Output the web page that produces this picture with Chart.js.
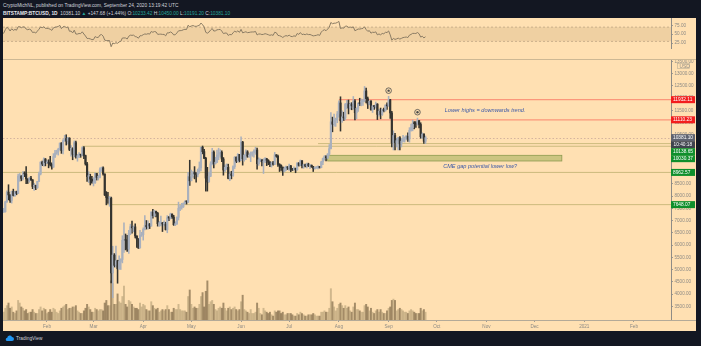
<!DOCTYPE html>
<html>
<head>
<meta charset="utf-8">
<script src="https://cdn.jsdelivr.net/npm/chart.js@4"></script>
<style>
  body { margin: 0; width: 701px; height: 346px; background: #131722; overflow: hidden;
         font-family: "Liberation Sans", Arial, sans-serif; position: relative; }
  .head { position: absolute; left: 3px; font-size: 4.8px; color: #d1d4dc; white-space: nowrap; }
  .head b { font-weight: bold; color: #e8e9ee; }
  .head .v { color: #26a69a; }
  #panel { position: absolute; left: 3px; top: 18px; width: 693px; height: 313px; background: #ffe0b2; }
  #rsi { position: absolute; left: 0; top: 0; }
  #main { position: absolute; left: 0; top: 41px; }
  #sep { position: absolute; left: 0; top: 41px; width: 693px; height: 1px; background: #cdb894; }
  #logo { position: absolute; left: 5px; top: 335px; font-size: 4.8px; color: #d1d4dc; display: flex; align-items: center; gap: 2px; }
</style>
</head>
<body>
<div class="head" style="top:3px">CryptoMichNL, published on TradingView.com, September 24, 2020 13:19:42 UTC</div>
<div class="head" style="top:10.5px"><b>BITSTAMP:BTCUSD, 1D</b> &nbsp;10381.10 <span class="v">▲</span> +147.68 (+1.44%) O:<span class="v">10233.42</span> H:<span class="v">10450.00</span> L:<span class="v">10191.20</span> C:<span class="v">10381.10</span></div>
<div id="panel">
  <canvas id="rsi" width="693" height="41"></canvas>
  <canvas id="main" width="693" height="272"></canvas>
  <div id="sep"></div>
</div>
<div id="logo"><svg width="9" height="6" viewBox="0 0 18 12"><path d="M4 12h10a4 4 0 0 0 0-8 5 5 0 0 0-9.5 1.5A3.3 3.3 0 0 0 4 12z" fill="#2196f3"/></svg><span>TradingView</span></div>
<script>
// day numbers: 0 = 1 Jan 2020
const closeStartDay = -31;   // 1 Dec 2019 (only used for opens / RSI warm-up)
const candleStartDay = 3;    // 4 Jan 2020

// daily closes, Dec 2019 .. 24 Sep 2020
const closes = [
  7420,7320,7300,7200,7400,7540,7510,7530,7340,7220,7210,7190,7260,7070,7110,6880,6620,7290,7150,7190,7150,7510,7320,7250,7200,7200,7250,7310,7390,7230,7190,
  7200,6965,7345,7355,7358,7760,8160,8045,7818,8190,8020,8180,8108,8815,8820,8720,8905,8900,8700,8630,8730,8660,8390,8440,8340,8600,8900,9380,9300,9510,9350,
  9380,9340,9290,9180,9610,9750,9800,9900,10160,9860,10260,10350,10240,10360,9900,9930,9700,10180,9600,9600,9690,9670,9970,9650,9310,8790,8790,8690,8540,
  8540,8920,8760,8760,9070,9150,8900,8040,7940,7910,7920,4860,5590,5170,5360,5030,5330,5410,6190,6210,6190,5830,6480,6750,6700,6740,6370,6250,5880,6400,6420,
  6640,6800,6740,6860,6770,7340,7200,7370,7300,6870,6890,6910,6860,6860,6630,7110,7100,7260,7140,6830,6860,7130,7500,7540,7560,7700,7780,7760,8790,8620,
  8830,8970,8900,8880,9030,9150,9990,9810,9540,8730,8570,8810,9310,9790,9320,9380,9670,9730,9780,9510,9060,9170,9180,8720,8900,8840,9200,9580,9420,9700,9450,
  10200,9520,9670,9800,9630,9670,9750,9780,9780,9880,9320,9480,9480,9390,9430,9520,9460,9380,9300,9360,9290,9680,9620,9290,9250,9160,9000,9120,9190,9140,
  9230,9090,9060,9130,9070,9340,9250,9440,9240,9280,9230,9300,9240,9250,9190,9130,9150,9170,9210,9160,9390,9530,9610,9550,9710,9930,11030,10930,11100,11110,11350,
  11800,11070,11230,11190,11740,11770,11600,11750,11680,11880,11400,11580,11780,11770,11860,11910,12290,11970,11750,11870,11520,11680,11650,11750,11330,11460,11330,11530,11480,11710,11680,
  11930,11390,10170,10470,10170,10260,10380,10130,10240,10360,10400,10440,10330,10680,10790,10960,10950,10940,11080,10920,10420,10530,10233.42,10381.1
];

// daily highs / lows, 4 Jan .. 24 Sep 2020
const highs = [
  7400,7500,7790,8210,8460,8050,8200,8280,8190,8200,8890,8920,8830,9000,8990,9200,8700,8770,8800,8670,8520,8440,8600,8980,9400,9430,9560,9530,
  9450,9480,9620,9350,9730,9860,9870,9950,10160,10180,10300,10480,10500,10390,10380,10060,9970,10250,10240,9700,9770,9700,10010,10020,9670,9370,8990,8890,8800,
  8750,8950,8920,8850,9150,9180,9190,8900,8180,8150,7980,7960,5950,5650,5960,5380,5560,5440,6380,6910,6450,6400,6600,6850,6980,6780,6860,6360,6260,6600,6520,
  6700,7200,7000,6990,6880,7360,7460,7420,7380,7330,6960,7180,6920,6990,6930,7200,7160,7300,7270,7210,6950,7150,7750,7620,7700,7720,7800,7800,8970,9460,
  9060,9000,9200,8960,9100,9390,10000,10040,9900,9580,9170,8980,9400,9950,9840,9580,9870,9950,9890,9840,9570,9270,9310,9300,8980,9010,9230,9610,9600,9730,9700,
  10420,10230,9690,9880,9850,9730,9800,9800,9880,9990,9960,9560,9500,9480,9520,9570,9540,9480,9400,9390,9420,9780,9690,9670,9320,9270,9190,9180,9220,9200,
  9300,9250,9130,9190,9140,9360,9360,9470,9450,9300,9300,9340,9340,9280,9270,9210,9180,9200,9230,9210,9420,9550,9650,9650,9730,10100,11400,11220,11340,11180,11450,
  11880,12050,11480,11420,11780,11900,11920,11800,11810,12060,11940,11600,11800,11990,11960,11940,12470,12400,12040,11880,11890,11690,11700,11830,11770,11540,11590,11550,11590,11720,11800,
  12070,11950,11460,10660,10560,10350,10400,10430,10350,10480,10410,10470,10580,10790,10940,11100,11040,11040,11180,11070,10990,10580,10540,10450
];
const lows = [
  7270,7330,7340,7740,7840,7740,7710,8000,7980,8050,8100,8600,8620,8660,8790,8500,8510,8560,8630,8300,8230,8260,8310,8580,8860,9240,9220,9230,
  9320,9150,9230,9100,9170,9560,9700,9670,9870,9740,9720,10230,10080,10120,9850,9630,9480,9590,9540,9420,9560,9580,9630,9520,9260,8600,8550,8450,8520,
  8410,8510,8650,8650,8740,9000,8850,8020,7640,7700,7580,4450,3850,5100,5100,4440,5000,5000,5270,5700,5800,5740,5660,6420,6480,6540,6290,5900,5860,5880,6350,
  6200,6620,6650,6650,6670,6780,7100,7160,7150,6770,6760,6780,6550,6780,6610,6500,6990,7060,7080,6800,6790,6840,7020,7400,7460,7530,7680,7670,7730,8430,
  8630,8760,8700,8560,8780,8930,9020,9720,9520,8200,8200,8570,8790,9270,9150,9300,9360,9480,9580,9400,8850,8980,9080,8700,8630,8700,8800,9120,9360,9380,9390,
  9440,9260,9420,9480,9580,9570,9400,9620,9580,9700,9100,9250,9400,9230,8920,9360,9240,9280,9200,9180,9260,9280,9580,9210,9000,9040,8840,8980,9030,9080,
  9040,8990,9040,9060,8950,9050,9220,9230,9150,9130,9190,9150,9200,9120,9170,9000,9100,9130,9110,9140,9150,9280,9460,9430,9530,9660,9920,10620,10850,10840,10990,
  11220,10650,11000,11080,11110,11560,11350,11530,11520,11540,11110,11150,11450,11690,11680,11700,11840,11800,11570,11720,11500,11410,11530,11580,11120,11260,11150,11290,11430,11460,11530,
  11660,11170,10000,9880,9880,10000,9880,9880,10000,10210,10200,10290,10230,10200,10650,10660,10740,10800,10890,10780,10360,10350,10150,10140
];
// daily volume (thousand BTC), 4 Jan .. 24 Sep 2020
const volumes = [
  5,6,9,11,13,9,10,6,5,7,15,13,10,9,7,8,5,6,6,8,6,5,5,8,10,7,9,8,
  5,6,8,6,9,8,6,5,7,9,10,11,12,8,9,9,10,10,11,7,6,5,5,7,9,12,10,8,6,
  6,9,8,7,8,8,7,13,15,11,11,30,28,12,12,20,14,13,18,26,12,10,15,14,12,10,9,9,8,13,10,
  12,11,8,7,7,14,11,9,8,9,6,7,8,7,8,11,8,6,6,9,8,8,12,8,7,7,7,6,18,23,
  12,9,10,9,9,12,18,21,10,22,30,12,14,15,12,8,7,9,10,9,13,9,7,9,10,8,9,10,8,7,8,
  14,19,8,7,6,5,8,5,5,6,13,9,5,4,9,7,6,5,6,4,3,7,6,7,7,5,6,4,4,5,
  5,5,4,3,3,5,4,6,5,4,3,3,4,4,4,5,4,3,3,3,6,6,7,6,6,9,24,14,10,7,9,
  12,13,11,9,11,9,10,7,6,10,13,8,8,7,6,6,11,12,10,7,9,6,5,7,8,6,8,6,5,5,7,
  9,10,15,16,15,7,8,9,8,7,6,6,5,7,8,7,6,5,5,5,9,7,8,6
];

const priceTicks = [3500,4000,4500,5000,5500,6000,6500,7000,7500,8000,8500,9000,9500,10000,10500,11000,11500,12000,12500,13000,13500];
const rsiTicks = [25, 50, 75];
const monthDays = [31, 60, 91, 121, 152, 182, 213, 244, 274, 305, 335, 366, 397];
const monthLabels = ['Feb','Mar','Apr','May','Jun','Jul','Aug','Sep','Oct','Nov','Dec','2021','Feb'];

// drawings
const redLevels = [11932.11, 11110.23];
const redStartDays = [213, 213];
const greenLevels = [10138.65, 10030.37, 8962.57, 7648.07];
const greenStartDays = [200, 53, 0, 68];
const gapTop = 9661, gapBottom = 9429, gapStartDay = 206, gapEndDay = 352;
const markerDays = [244, 262];
const markerPrices = [12300, 11420];
const noteTexts = ['Lower highs = downwards trend.', 'CME gap potential lower low?'];
const noteDays = [279, 278];
const notePrices = [11482, 9224];
const countdown = '10:40:18';

const xMin = 3.57, xMax = 420.07;
const UP = '#a9b0bd', DOWN = '#34332f';
const TICK_COLOR = '#8c8a85';
Chart.defaults.font.family = '"Liberation Sans", Arial, sans-serif';
Chart.defaults.font.size = 4.6;

const candles = highs.map((h, i) => {
  const day = candleStartDay + i;
  const ci = day - closeStartDay;
  const o = closes[ci - 1], c = closes[ci];
  return { day, o, c, h: Math.max(h, o, c), l: Math.min(lows[i], o, c), up: c >= o, v: volumes[i] };
});

// RSI 14 (Wilder)
const rsiPoints = [];
let avgG = 0, avgL = 0;
for (let i = 1; i < closes.length; i++) {
  const d = closes[i] - closes[i - 1];
  const g = Math.max(d, 0), l = Math.max(-d, 0);
  if (i <= 14) {
    avgG += g / 14; avgL += l / 14;
    if (i < 14) continue;
  } else {
    avgG = (avgG * 13 + g) / 14; avgL = (avgL * 13 + l) / 14;
  }
  rsiPoints.push({ x: closeStartDay + i, y: 100 - 100 / (1 + avgG / avgL) });
}

function fixAxis(w) {
  return function (scale) {
    scale.width = w;
    scale.paddingTop = 0; scale.paddingBottom = 0;
  };
}

const xAxis = (show) => ({
  type: 'linear', min: xMin, max: xMax, offset: false, display: show,
  afterBuildTicks: (s) => { s.ticks = monthDays.map(v => ({ value: v })); },
  afterFit: (s) => { s.height = 11; s.paddingLeft = 0; s.paddingRight = 0; },
  ticks: { autoSkip: false, maxRotation: 0, color: TICK_COLOR, padding: 1.5,
           callback: (v, i) => monthLabels[i] },
  grid: { drawOnChartArea: false, drawTicks: true, tickLength: 2, color: '#a09b92', offset: false },
  border: { display: true, color: '#b4aa98' }
});

// ---------- RSI pane ----------
new Chart(document.getElementById('rsi'), {
  type: 'line',
  data: { datasets: [{ data: rsiPoints, borderColor: '#8a7b63', borderWidth: 1, pointRadius: 0, tension: 0 }] },
  options: {
    responsive: false, animation: false, events: [],
    layout: { padding: 0 },
    plugins: { legend: { display: false }, tooltip: { enabled: false } },
    scales: {
      x: xAxis(false),
      y: {
        position: 'right', min: 11.2, max: 95.6,
        afterBuildTicks: (s) => { s.ticks = rsiTicks.map(v => ({ value: v })); },
        afterFit: fixAxis(25),
        ticks: { color: TICK_COLOR, padding: 1.5, crossAlign: 'near', callback: v => v.toFixed(2) },
        grid: { drawOnChartArea: false, tickLength: 2, color: '#a09b92' },
        border: { display: true, color: '#8f8c86' }
      }
    }
  },
  plugins: [{
    id: 'band',
    beforeDatasetsDraw(chart) {
      const { ctx, chartArea: a, scales: { y } } = chart;
      const y70 = y.getPixelForValue(70), y30 = y.getPixelForValue(30);
      ctx.save();
      ctx.fillStyle = 'rgba(190,160,115,0.25)';
      ctx.fillRect(a.left, y70, a.right - a.left, y30 - y70);
      ctx.strokeStyle = '#bfa784';
      ctx.lineWidth = 0.8;
      ctx.setLineDash([2, 2]);
      [y70, y30].forEach(p => { ctx.beginPath(); ctx.moveTo(a.left, p); ctx.lineTo(a.right, p); ctx.stroke(); });
      ctx.restore();
    }
  }]
});

// ---------- price pane ----------
const labelsPlugin = {
  id: 'drawings',
  beforeDatasetsDraw(chart) {
    const { ctx, chartArea: a, scales: { x, y } } = chart;
    ctx.save();
    ctx.beginPath(); ctx.rect(a.left, a.top, a.right - a.left, a.bottom - a.top); ctx.clip();
    // CME gap box
    const gx1 = x.getPixelForValue(gapStartDay), gx2 = x.getPixelForValue(gapEndDay);
    const gy1 = y.getPixelForValue(gapTop), gy2 = y.getPixelForValue(gapBottom);
    ctx.fillStyle = 'rgba(160,175,90,0.55)';
    ctx.fillRect(gx1, gy1, gx2 - gx1, gy2 - gy1);
    ctx.strokeStyle = '#8e9a50'; ctx.lineWidth = 0.8;
    ctx.strokeRect(gx1, gy1, gx2 - gx1, gy2 - gy1);
    // last price dotted line
    const last = closes[closes.length - 1];
    ctx.setLineDash([1.5, 2]);
    ctx.strokeStyle = '#c9a89a'; ctx.lineWidth = 0.8;
    let py = Math.round(y.getPixelForValue(last)) + 0.5;
    ctx.beginPath(); ctx.moveTo(a.left, py); ctx.lineTo(a.right, py); ctx.stroke();
    ctx.setLineDash([]);
    // horizontal levels
    ctx.strokeStyle = 'rgba(170,160,90,0.6)'; ctx.lineWidth = 1;
    greenLevels.forEach((v, i) => {
      const p = y.getPixelForValue(v);
      ctx.beginPath(); ctx.moveTo(x.getPixelForValue(greenStartDays[i]), p); ctx.lineTo(a.right, p); ctx.stroke();
    });
    ctx.strokeStyle = 'rgba(250,120,100,0.7)'; ctx.lineWidth = 1.3;
    redLevels.forEach((v, i) => {
      const p = y.getPixelForValue(v);
      ctx.beginPath(); ctx.moveTo(x.getPixelForValue(redStartDays[i]), p); ctx.lineTo(a.right, p); ctx.stroke();
    });
    ctx.restore();
  },
  afterDatasetsDraw(chart) {
    const { ctx, scales: { x, y } } = chart;
    ctx.save();
    // circled markers
    markerDays.forEach((d, i) => {
      const cx = x.getPixelForValue(d), cy = y.getPixelForValue(markerPrices[i]);
      ctx.strokeStyle = '#4a4a4a'; ctx.lineWidth = 0.8;
      ctx.beginPath(); ctx.arc(cx, cy, 2.8, 0, Math.PI * 2); ctx.stroke();
      ctx.fillStyle = '#4a4a4a';
      ctx.beginPath(); ctx.arc(cx, cy, 1.2, 0, Math.PI * 2); ctx.fill();
    });
    // notes
    ctx.font = 'italic 5.6px "Liberation Sans", Arial, sans-serif';
    ctx.fillStyle = '#3d5aa8';
    ctx.textBaseline = 'middle';
    noteTexts.forEach((t, i) => ctx.fillText(t, x.getPixelForValue(noteDays[i]), y.getPixelForValue(notePrices[i])));
    ctx.restore();
  },
  afterDraw(chart) {
    const { ctx, chartArea: a, scales: { y } } = chart;
    const last = closes[closes.length - 1];
    const tags = [
      ...redLevels.map(v => ({ v, bg: '#f21d1d', t: v.toFixed(2) })),
      { v: last, bg: '#5f6370', t: last.toFixed(2), sub: countdown },
      ...greenLevels.map(v => ({ v, bg: '#0f8f2c', t: v.toFixed(2) }))
    ].sort((p, q) => q.v - p.v);
    const h = 7;
    let bottom = -1e9;
    ctx.save();
    ctx.font = '4.8px "Liberation Sans", Arial, sans-serif';
    ctx.textBaseline = 'middle';
    tags.forEach(tg => {
      let top = Math.max(y.getPixelForValue(tg.v) - h / 2, bottom);
      ctx.fillStyle = tg.bg;
      ctx.fillRect(a.right, top, 24, h);
      ctx.fillStyle = '#ffffff';
      ctx.fillText(tg.t, a.right + 2, top + h / 2 + 0.3);
      bottom = top + h;
      if (tg.sub) {
        ctx.fillStyle = '#3f434e';
        ctx.fillRect(a.right, bottom, 24, h);
        ctx.fillStyle = '#ffffff';
        ctx.fillText(tg.sub, a.right + 2.5, bottom + h / 2 + 0.3);
        bottom += h;
      }
    });
    // "USD" badge under top tick
    ctx.strokeStyle = '#b9ad97'; ctx.lineWidth = 0.6;
    ctx.strokeRect(a.right + 6.5, a.top + 4.5, 12, 5);
    ctx.fillStyle = TICK_COLOR;
    ctx.fillText('USD', a.right + 8.5, a.top + 7.2);
    // bottom line across the price axis
    ctx.strokeStyle = '#b4aa98'; ctx.lineWidth = 1;
    ctx.beginPath(); ctx.moveTo(a.right, a.bottom + 0.5); ctx.lineTo(a.right + 25, a.bottom + 0.5); ctx.stroke();
    ctx.restore();
  }
};

new Chart(document.getElementById('main'), {
  type: 'bar',
  data: {
    datasets: [
      { data: candles.map(k => ({ x: k.day, y: k.v })), yAxisID: 'yv', order: 3, grouped: false,
        barThickness: 1.3, backgroundColor: candles.map(k => k.up ? 'rgba(170,150,110,0.55)' : 'rgba(105,85,55,0.6)') },
      { data: candles.map(k => ({ x: k.day, y: [k.l, k.h] })), order: 2, grouped: false,
        barThickness: 0.9, backgroundColor: candles.map(k => k.up ? UP : DOWN) },
      { data: candles.map(k => ({ x: k.day, y: [k.o, k.c] })), order: 1, grouped: false, minBarLength: 1,
        barThickness: 1.5, backgroundColor: candles.map(k => k.up ? UP : DOWN) }
    ]
  },
  options: {
    responsive: false, animation: false, events: [],
    layout: { padding: 0 },
    plugins: { legend: { display: false }, tooltip: { enabled: false } },
    scales: {
      x: xAxis(true),
      y: {
        position: 'right', min: 2939, max: 13592,
        afterBuildTicks: (s) => { s.ticks = priceTicks.map(v => ({ value: v })); },
        afterFit: fixAxis(25),
        ticks: { color: TICK_COLOR, padding: 1.5, crossAlign: 'near', callback: v => v.toFixed(2) },
        grid: { drawOnChartArea: false, tickLength: 2, color: '#a09b92' },
        border: { display: true, color: '#8f8c86' }
      },
      yv: { display: false, min: 0, max: 200 }
    }
  },
  plugins: [labelsPlugin]
});
</script>
</body>
</html>
